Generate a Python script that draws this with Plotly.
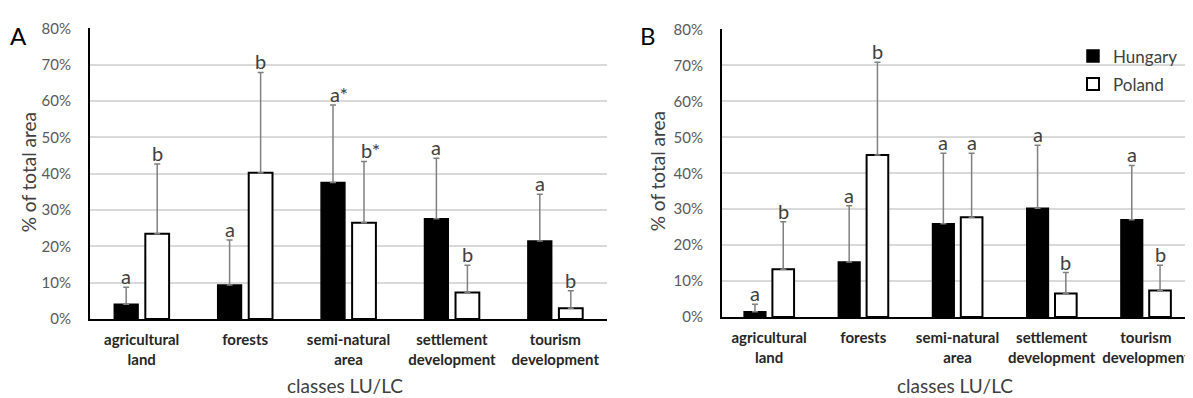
import plotly.graph_objects as go

categories = ["agricultural<br>land", "forests", "semi-natural<br>area",
              "settlement<br>development", "tourism<br>development"]

# Panel A (values in %)
a_hungary = [4.1, 9.4, 37.6, 27.6, 21.5]
a_hungary_err = [8.8, 21.8, 58.9, 44.3, 34.4]   # top of error bar
a_poland = [23.5, 40.3, 26.5, 7.3, 3.0]
a_poland_err = [42.7, 67.9, 43.4, 14.8, 7.8]
a_hungary_letters = ["a", "a", "a*", "a", "a"]
a_poland_letters = ["b", "b", "b*", "b", "b"]

# Panel B (values in %)
b_hungary = [1.5, 15.3, 26.0, 30.3, 27.1]
b_hungary_err = [3.6, 31.0, 45.6, 47.8, 42.2]
b_poland = [13.3, 45.1, 27.8, 6.6, 7.4]
b_poland_err = [26.5, 70.9, 45.6, 12.4, 14.4]
b_hungary_letters = ["a", "a", "a", "a", "a"]
b_poland_letters = ["b", "b", "a", "b", "b"]

FONT = "Lato"
BAR_W = 0.23
OFF_H = -0.265
OFF_P = 0.035

W, H = 1193, 398
# empirical mapping between layout pixels and the photographed page
OX, SX = 8, 1.0
OY, SY = 18.7, 0.949


def fx(p):
    return (p - OX) / SX / W


def fy(p):
    return 1 - (p - OY) / SY / H


fig = go.Figure()


def add_panel(xa, ya, hv, he, pv, pe, showlegend):
    fig.add_trace(go.Bar(
        x=categories, y=hv, name="Hungary", xaxis=xa, yaxis=ya,
        width=BAR_W, offset=OFF_H, showlegend=showlegend, legendgroup="h",
        marker=dict(color="black", line=dict(color="black", width=1.5)),
        error_y=dict(type="data", symmetric=False,
                     array=[e - v for e, v in zip(he, hv)],
                     arrayminus=[0] * len(hv),
                     color="#808080", thickness=1.5, width=3),
    ))
    fig.add_trace(go.Bar(
        x=categories, y=pv, name="Poland", xaxis=xa, yaxis=ya,
        width=BAR_W, offset=OFF_P, showlegend=showlegend, legendgroup="p",
        marker=dict(color="white", line=dict(color="black", width=2)),
        error_y=dict(type="data", symmetric=False,
                     array=[e - v for e, v in zip(pe, pv)],
                     arrayminus=[0] * len(pv),
                     color="#808080", thickness=1.5, width=3),
    ))


add_panel("x", "y", a_hungary, a_hungary_err, a_poland, a_poland_err, False)
add_panel("x2", "y2", b_hungary, b_hungary_err, b_poland, b_poland_err, True)

annotations = []


def add_letters(xref, yref, errs, letters, center):
    for i, (e, t) in enumerate(zip(errs, letters)):
        annotations.append(dict(
            x=i + center, y=e, xref=xref, yref=yref, text=t,
            showarrow=False, xanchor="center", yanchor="bottom",
            yshift=-3, xshift=6 if t.endswith("*") else 0,
            font=dict(family=FONT, size=20, color="#404040"),
        ))


add_letters("x", "y", a_hungary_err, a_hungary_letters, OFF_H + BAR_W / 2)
add_letters("x", "y", a_poland_err, a_poland_letters, OFF_P + BAR_W / 2)
add_letters("x2", "y2", b_hungary_err, b_hungary_letters, OFF_H + BAR_W / 2)
add_letters("x2", "y2", b_poland_err, b_poland_letters, OFF_P + BAR_W / 2)

title_font = dict(family=FONT, size=19, color="#404040")
for txt, x, y, ang in [("% of total area", 28, 172, -90),
                       ("% of total area", 657, 171, -90),
                       ("classes LU/LC", 345, 384, 0),
                       ("classes LU/LC", 955, 384, 0)]:
    annotations.append(dict(text=txt, x=fx(x), y=fy(y), xref="paper", yref="paper",
                            showarrow=False, xanchor="center", yanchor="middle",
                            textangle=ang, font=title_font))
for txt, x, y in [("A", 18, 36), ("B", 648, 36)]:
    annotations.append(dict(text=txt, x=fx(x), y=fy(y), xref="paper", yref="paper",
                            showarrow=False, xanchor="center", yanchor="middle",
                            font=dict(family=FONT, size=24, color="black")))

xcommon = dict(showline=True, linecolor="black", linewidth=2, showgrid=False,
               ticks="", tickangle=0,
               tickfont=dict(family=FONT, size=15, color="#262626", weight="bold"),
               ticklabelstandoff=6, range=[-0.5, 4.5], fixedrange=True)
ycommon = dict(range=[0, 80], dtick=10, ticksuffix="%", showline=True, linecolor="black",
               linewidth=2, showgrid=True, gridcolor="#d9d9d9", gridwidth=1.5,
               ticks="", tickfont=dict(family=FONT, size=15, color="#595959"),
               ticklabelstandoff=14, zeroline=False, fixedrange=True)

fig.update_layout(
    width=W, height=H,
    margin=dict(l=0, r=0, t=0, b=0),
    paper_bgcolor="white", plot_bgcolor="white",
    barmode="group",
    xaxis=dict(domain=[fx(90), fx(607)], anchor="y", **xcommon),
    yaxis=dict(domain=[fy(318), fy(29.1)], anchor="x", **ycommon),
    xaxis2=dict(domain=[fx(722), fx(1193)], anchor="y2", **xcommon),
    yaxis2=dict(domain=[fy(316), fy(30.1)], anchor="x2", **ycommon),
    legend=dict(x=fx(1073), y=fy(39), xanchor="left", yanchor="top",
                bgcolor="rgba(0,0,0,0)", itemwidth=30,
                font=dict(family=FONT, size=17, color="#404040"),
                tracegroupgap=3),
    annotations=annotations,
    font=dict(family=FONT),
)

fig.write_html("out.html")
